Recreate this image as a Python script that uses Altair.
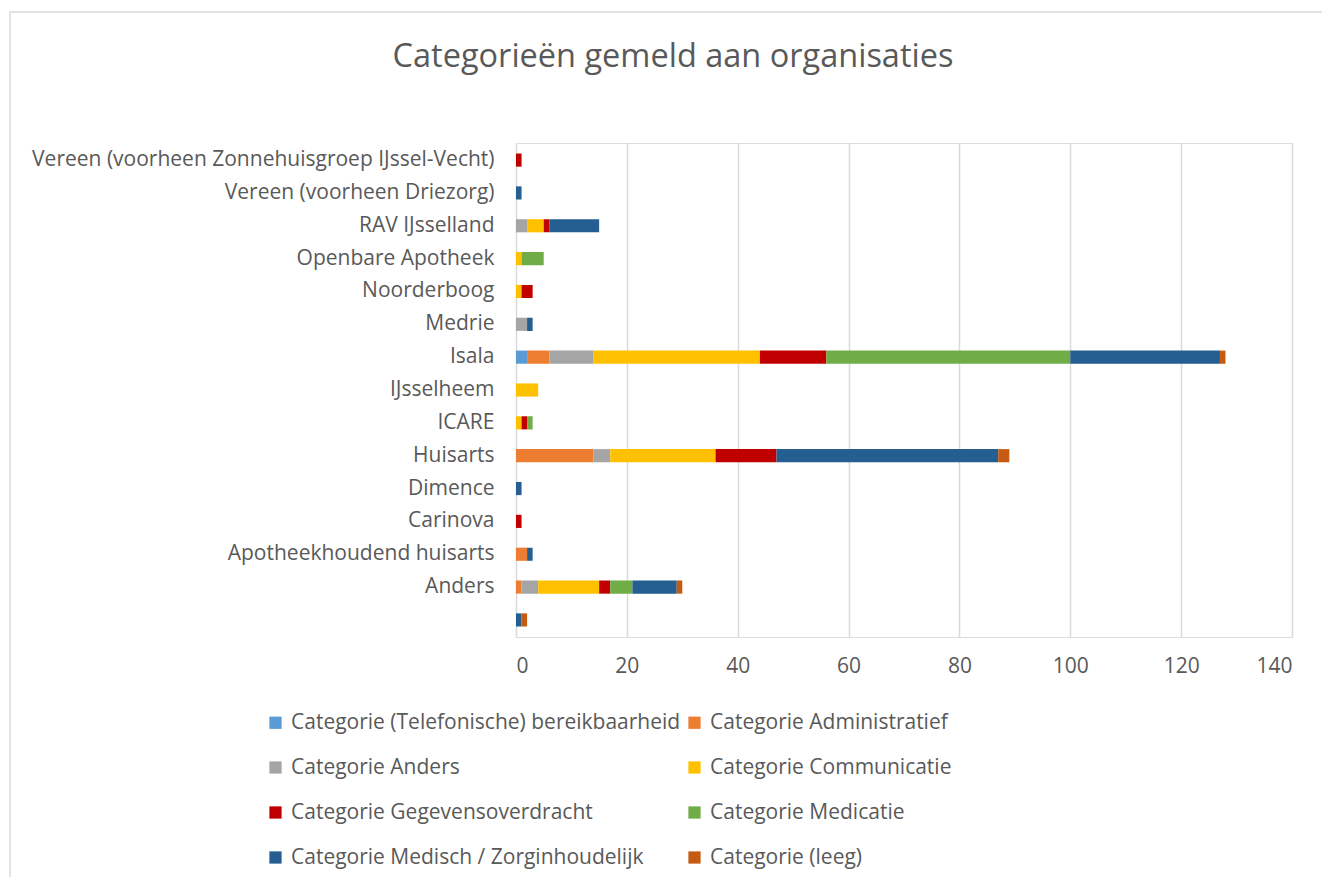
import altair as alt
import pandas as pd

orgs = [
    "Vereen (voorheen Zonnehuisgroep IJssel-Vecht)",
    "Vereen (voorheen Driezorg)",
    "RAV IJsselland",
    "Openbare Apotheek",
    "Noorderboog",
    "Medrie",
    "Isala",
    "IJsselheem",
    "ICARE",
    "Huisarts",
    "Dimence",
    "Carinova",
    "Apotheekhoudend huisarts",
    "Anders",
    "",
]

series_names = [
    "Categorie (Telefonische) bereikbaarheid",
    "Categorie Administratief",
    "Categorie Anders",
    "Categorie Communicatie",
    "Categorie Gegevensoverdracht",
    "Categorie Medicatie",
    "Categorie Medisch / Zorginhoudelijk",
    "Categorie (leeg)",
]

telefonisch = [0, 0, 0, 0, 0, 0, 2, 0, 0, 0, 0, 0, 0, 0, 0]
administratief = [0, 0, 0, 0, 0, 0, 4, 0, 0, 14, 0, 0, 2, 1, 0]
anders = [0, 0, 2, 0, 0, 2, 8, 0, 0, 3, 0, 0, 0, 3, 0]
communicatie = [0, 0, 3, 1, 1, 0, 30, 4, 1, 19, 0, 0, 0, 11, 0]
gegevens = [1, 0, 1, 0, 2, 0, 12, 0, 1, 11, 0, 1, 0, 2, 0]
medicatie = [0, 0, 0, 4, 0, 0, 44, 0, 1, 0, 0, 0, 0, 4, 0]
medisch = [0, 1, 9, 0, 0, 1, 27, 0, 0, 40, 1, 0, 1, 8, 1]
leeg = [0, 0, 0, 0, 0, 0, 1, 0, 0, 2, 0, 0, 0, 1, 1]

colors = ["#5B9BD5", "#ED7D31", "#A5A5A5", "#FFC000", "#C00000", "#70AD47", "#255E91", "#C55A11"]

all_series = [telefonisch, administratief, anders, communicatie, gegevens, medicatie, medisch, leeg]
rows = []
for si, (name, vals) in enumerate(zip(series_names, all_series)):
    for org, v in zip(orgs, vals):
        if v > 0:
            rows.append({"Organisatie": org, "Categorie": name, "Aantal": v, "idx": si})
df = pd.DataFrame(rows)

# legend is filled column by column: reorder so it reads row by row (2 columns)
legend_order = [0, 2, 4, 6, 1, 3, 5, 7]
dom = [series_names[i] for i in legend_order]
rng = [colors[i] for i in legend_order]

FONT = "Open Sans"
GREY = "#595959"
FS = 21

bars = alt.Chart(df).mark_bar().encode(
    y=alt.Y(
        "Organisatie:N",
        sort=orgs,
        scale=alt.Scale(domain=orgs, paddingInner=0.6, paddingOuter=0.32),
        axis=alt.Axis(
            title=None, domain=False, ticks=False, labelPadding=22,
            labelFontSize=FS, labelColor=GREY, labelFont=FONT, labelLimit=700,
        ),
    ),
    x=alt.X(
        "sum(Aantal):Q",
        scale=alt.Scale(domain=[0, 140], nice=False),
        axis=alt.Axis(
            title=None, values=list(range(0, 141, 20)), domain=False, ticks=False,
            labelPadding=18, labelFontSize=FS, labelColor=GREY, labelFont=FONT,
            grid=True, gridColor="#D9D9D9", gridWidth=1.5,
        ),
    ),
    color=alt.Color(
        "Categorie:N",
        scale=alt.Scale(domain=dom, range=rng),
        legend=alt.Legend(
            title=None, orient="none", legendX=-251, legendY=569, columns=2,
            columnPadding=3, rowPadding=23, symbolType="square", symbolSize=150,
            symbolStrokeWidth=0, labelFontSize=FS, labelColor=GREY, labelFont=FONT,
            labelLimit=700, labelOffset=5,
        ),
    ),
    order=alt.Order("idx:Q", sort="ascending"),
)

frame = alt.Chart(pd.DataFrame({"a": [0]})).mark_rect(
    fill=None, stroke="#D9D9D9", strokeWidth=1.5
).encode(
    x=alt.value(-506), x2=alt.value(830), y=alt.value(-131), y2=alt.value(760)
)

chart = alt.layer(frame, bars).properties(
    width=776,
    height=494,
    autosize=alt.AutoSizeParams(type="none"),
    padding={"left": 508, "top": 135, "right": 30, "bottom": 240},
    title=alt.TitleParams(
        "Categorieën gemeld aan organisaties", anchor="middle", dx=-231,
        fontSize=32.5, font=FONT, color=GREY, fontWeight="normal", offset=-62,
    ),
).configure_view(stroke=None).configure(background="white")

chart.save("out.html", embed_options={"renderer": "svg", "actions": False})
